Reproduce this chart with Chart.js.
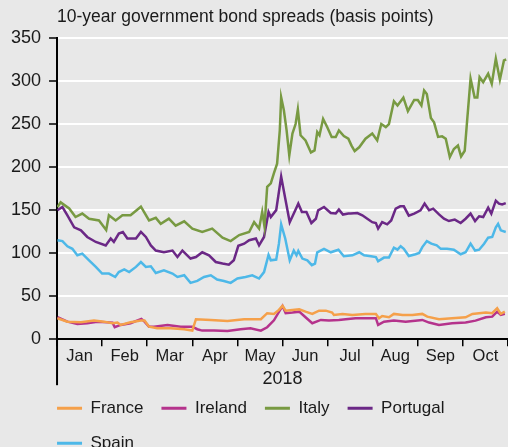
<!DOCTYPE html>
<html>
<head>
<meta charset="utf-8">
<script src="https://cdn.jsdelivr.net/npm/chart.js@4/dist/chart.umd.min.js"></script>
<style>
  html, body { margin: 0; padding: 0; background: #e8e8e8; }
  #wrap { width: 508px; height: 447px; position: relative; }
</style>
</head>
<body>
<div id="wrap"><canvas id="c" width="508" height="447"></canvas></div>
<script>
// ---- data (x = position in months since 1 Jan 2018, y = basis points) ----
const months = ['Jan','Feb','Mar','Apr','May','Jun','Jul','Aug','Sep','Oct'];
const yearLabel = '2018';
const titleText = '10-year government bond spreads (basis points)';
const seriesNames = ['France','Ireland','Italy','Portugal','Spain'];
const seriesColors = ['#f5a04a','#b5338c','#789a42','#6b2886','#4db8e8'];

const franceX = [0.01,0.23,0.53,0.82,1.04,1.23,1.34,1.41,1.63,1.86,1.94,2.04,2.22,2.52,2.82,3.00,3.08,3.41,3.78,4.15,4.52,4.66,4.81,4.92,5.00,5.07,5.22,5.37,5.51,5.66,5.81,5.96,6.10,6.14,6.33,6.55,6.84,7.07,7.14,7.21,7.36,7.47,7.66,7.88,8.10,8.21,8.47,8.76,9.06,9.21,9.51,9.65,9.76,9.84,9.93];
const franceY = [24.4,20.4,19.7,21.6,20.4,18.6,19.3,16.6,19.7,21.6,21.6,14.6,12.8,12.8,11.6,10,23.2,22.4,21.2,23.2,23.2,30.2,29.4,34,38.7,33.2,34,34.8,32,29.4,33.2,33.2,30.9,28.2,29.4,28.2,29.4,29.4,24.4,27,25.5,29.4,28.2,28.2,29.4,26.2,23.2,24.4,25.5,29.4,30.9,30.2,36,29.4,32];

const irelandX = [0.01,0.23,0.45,0.67,0.89,1.23,1.28,1.41,1.63,1.87,1.94,2.04,2.15,2.45,2.74,3.00,3.11,3.22,3.48,3.78,4.07,4.29,4.52,4.66,4.81,5.00,5.07,5.22,5.37,5.51,5.66,5.85,6.03,6.25,6.40,6.62,6.84,7.07,7.12,7.25,7.47,7.73,8.10,8.25,8.47,8.76,9.06,9.28,9.51,9.65,9.76,9.84,9.93];
const irelandY = [25.5,20.4,17.8,18.6,20.4,19.3,13.9,16.6,18.6,23.6,20.4,14.6,14.6,16.6,14.6,14.6,11.6,10,10,9.6,11.6,12.8,10,13.9,22,38.7,30.2,30.9,32,25.5,18.6,22.4,21.6,22.4,23.2,24.4,24.4,24.4,16.6,20.4,21.6,20.4,22.4,19.3,16.6,18.6,19.3,21.6,25.5,26.2,32,28.2,29.4];

const italyX = [0.01,0.08,0.27,0.41,0.56,0.71,0.93,1.09,1.15,1.30,1.45,1.63,1.86,2.04,2.19,2.30,2.48,2.63,2.82,3.00,3.22,3.44,3.67,3.85,4.04,4.26,4.37,4.48,4.55,4.60,4.66,4.74,4.81,4.88,4.94,4.97,5.03,5.09,5.15,5.22,5.29,5.34,5.40,5.51,5.63,5.71,5.77,5.82,5.90,5.99,6.09,6.18,6.25,6.36,6.46,6.53,6.60,6.70,6.84,6.99,7.10,7.19,7.29,7.36,7.47,7.55,7.68,7.78,7.92,8.00,8.08,8.14,8.20,8.29,8.36,8.45,8.54,8.62,8.71,8.80,8.89,8.96,9.04,9.10,9.17,9.26,9.32,9.37,9.45,9.56,9.64,9.73,9.82,9.91,9.96];
const italyY = [153.6,159,152,142,146,140,138,127,144,138,144,144,154,138,141,134,140,132,137,128.5,124.6,128.5,118,114,121,124.6,136,128.5,148,131,177,181,193,204,243,281,266,243,213.6,239,250,267,237,231,217,219.4,240.7,237,256,246.5,235,235,242.6,236,233,225,218.6,223,233,239,231,250,246.5,250,276.6,271.6,280.6,265,278,278,271.6,289,285,257,252,235,235.7,233,211.6,221,225,212.4,219,258,302.6,281,281,304.5,298.7,308.5,296.8,325.9,301.5,324,325];

const portugalX = [0.01,0.12,0.23,0.38,0.53,0.67,0.86,1.08,1.19,1.26,1.37,1.46,1.56,1.75,1.86,1.97,2.08,2.19,2.37,2.56,2.67,2.78,2.96,3.08,3.22,3.37,3.52,3.67,3.81,3.92,4.02,4.15,4.26,4.41,4.48,4.59,4.69,4.74,4.86,4.97,5.07,5.16,5.25,5.35,5.43,5.53,5.64,5.74,5.79,5.92,6.07,6.18,6.25,6.34,6.46,6.51,6.66,6.77,6.88,6.99,7.07,7.12,7.21,7.32,7.41,7.51,7.61,7.69,7.80,7.92,8.06,8.15,8.25,8.34,8.47,8.58,8.69,8.82,8.95,9.06,9.17,9.27,9.36,9.45,9.56,9.63,9.73,9.80,9.87,9.95];
const portugalY = [149.8,153.6,144,130,126.5,118.8,113,109,117,113,122.7,124.6,117,117,124.6,118.8,109,103,101,103,95.5,103,93.7,95.5,101,97.5,89.7,87.9,86.5,91.7,108.5,111,115,117,109,118.8,147.8,142,150,189,161,136,146,157.5,147.8,147.8,135,140,149.8,153.6,146.6,146,150.6,144.8,146,146,146.6,144,140,136,135,128.5,136,133.5,138,151.7,154.4,154.4,143.6,146,149.8,157.5,149.8,151.7,145,140,137.3,139,135,140,146,137.3,142.8,142,152.9,146,161,157.5,156.7,158.2];

const spainX = [0.01,0.12,0.23,0.34,0.45,0.56,0.71,0.86,1.00,1.15,1.29,1.37,1.49,1.60,1.75,1.86,1.97,2.08,2.19,2.37,2.56,2.67,2.82,2.96,3.11,3.26,3.41,3.55,3.70,3.85,4.00,4.18,4.33,4.48,4.59,4.69,4.74,4.86,4.92,4.97,5.06,5.16,5.25,5.31,5.35,5.44,5.55,5.65,5.72,5.77,5.92,6.07,6.24,6.36,6.55,6.70,6.81,6.96,7.07,7.12,7.25,7.36,7.47,7.55,7.62,7.69,7.80,7.95,8.03,8.10,8.20,8.30,8.42,8.51,8.65,8.80,8.95,9.06,9.17,9.27,9.36,9.47,9.56,9.65,9.73,9.78,9.84,9.95];
const spainY = [115,114,108,105,97.5,99.5,91.7,84,76.3,76.3,72.3,78,81,78,84,89.7,84,84.7,77,80,76.3,72.3,74.3,65.4,67.7,72.3,74.3,69.3,67.7,65.4,70.5,72.3,74.3,70.5,78,98,91.7,92.5,111,133.5,117,91.7,103,97.5,102.5,93.7,91.7,86,87.9,101,105,101,104,96.4,97.5,101,97.5,96.4,95.5,90.5,94.8,94.8,106.4,104,108,105,96.7,98.7,100.2,107,114,111,109,105,105,104,98.7,101,111,103,104,111,118,118.8,130,134,126.5,124.6];

const yTicks = [0,50,100,150,200,250,300,350];
// --------------------------------------------------------------------------

const xs = [franceX, irelandX, italyX, portugalX, spainX];
const ys = [franceY, irelandY, italyY, portugalY, spainY];

const datasets = seriesNames.map((name, i) => ({
  label: name,
  data: xs[i].map((x, j) => ({ x: x, y: ys[i][j] })),
  xAxisID: 'xd',
  yAxisID: 'y',
  borderColor: seriesColors[i],
  backgroundColor: seriesColors[i],
  borderWidth: 2.5,
  pointRadius: 0,
  tension: 0,
  fill: false
}));

const FONT = "'Liberation Sans', Arial, sans-serif";
const TXT = '#1a1a1a';
const LEG_PAD = 18;
const LEG_FONT = 17;

const axisExtend = {
  id: 'axisExtend',
  afterDraw(chart) {
    const { ctx, chartArea } = chart;
    ctx.save();
    ctx.strokeStyle = '#000';
    ctx.lineWidth = 2;
    ctx.beginPath();
    ctx.moveTo(chartArea.left, chartArea.bottom);
    ctx.lineTo(chartArea.left, chartArea.bottom + 46);
    ctx.stroke();
    ctx.restore();
  }
};

// place legend's first item flush with the plot's left edge, first row ~69px below the axis
const legendShift = {
  id: 'legendShift',
  afterLayout(chart) {
    const lg = chart.legend;
    if (lg) {
      lg.left = chart.chartArea.left - LEG_PAD;
      lg.top = chart.chartArea.bottom + 69 - LEG_PAD - LEG_FONT / 2;
    }
  }
};

new Chart(document.getElementById('c'), {
  type: 'line',
  data: { datasets },
  plugins: [axisExtend, legendShift],
  options: {
    responsive: false,
    animation: false,
    layout: { padding: { left: 3, right: 0, top: 0, bottom: 0 } },
    plugins: {
      title: {
        display: true,
        text: titleText,
        align: 'start',
        fullSize: false,
        color: TXT,
        font: { family: FONT, size: 17.5, weight: 'normal' },
        padding: { top: 7, bottom: 10 }
      },
      legend: {
        display: true,
        position: 'bottom',
        align: 'start',
        fullSize: false,
        maxHeight: 59,
        labels: {
          boxWidth: 25,
          boxHeight: 3,
          padding: LEG_PAD,
          color: TXT,
          font: { family: FONT, size: LEG_FONT },
          generateLabels(chart) {
            return Chart.defaults.plugins.legend.labels.generateLabels(chart)
              .map(item => Object.assign(item, { lineWidth: 0 }));
          }
        }
      },
      tooltip: { enabled: false }
    },
    scales: {
      x: {
        type: 'category',
        labels: months,
        position: 'bottom',
        offset: true,
        grid: {
          offset: true,
          drawOnChartArea: false,
          drawTicks: true,
          tickLength: 7,
          tickColor: '#000',
          lineWidth: 1.5
        },
        border: { display: true, color: '#000', width: 2 },
        ticks: {
          color: TXT,
          font: { family: FONT, size: 16.5 },
          padding: 0,
          maxRotation: 0,
          autoSkip: false
        },
        title: {
          display: true,
          text: yearLabel,
          color: TXT,
          font: { family: FONT, size: 18, lineHeight: 1 },
          padding: { top: 4, bottom: 0 }
        }
      },
      xd: {
        type: 'linear',
        display: false,
        min: 0,
        max: 10
      },
      y: {
        type: 'linear',
        min: 0,
        max: 350,
        afterBuildTicks(scale) {
          scale.ticks = yTicks.map(v => ({ value: v }));
        },
        grid: {
          color: c => (c.tick && c.tick.value === 0) ? '#000' : '#ffffff',
          lineWidth: 2,
          drawTicks: true,
          tickLength: 8,
          tickColor: '#000',
          tickWidth: 1.5
        },
        border: { display: true, color: '#000', width: 2 },
        ticks: {
          color: TXT,
          font: { family: FONT, size: 18 },
          padding: 8
        }
      }
    }
  }
});
</script>
</body>
</html>
